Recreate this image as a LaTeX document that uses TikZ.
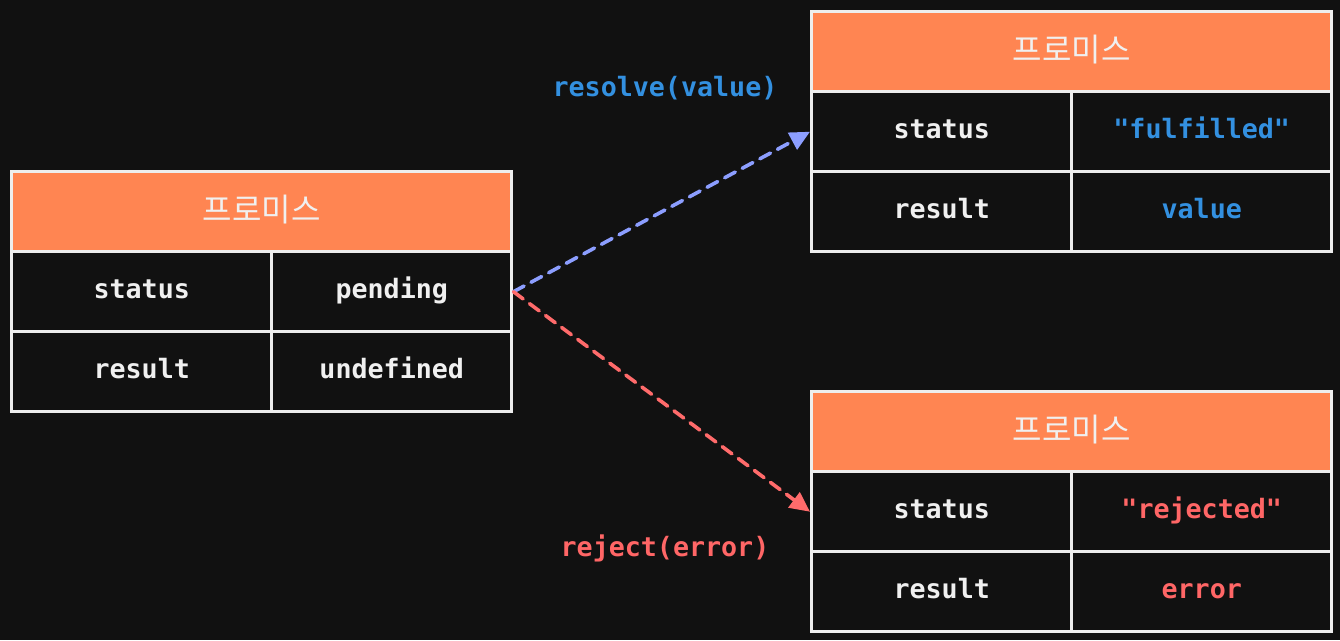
\documentclass[tikz,border=0pt]{standalone}
\usepackage{fontspec}
\setmonofont{DejaVu Sans Mono}
\newfontfamily\krfont{Noto Sans CJK KR}
\usetikzlibrary{arrows.meta}
\definecolor{bgc}{HTML}{111111}
\definecolor{bordc}{HTML}{EEEEEE}
\definecolor{hdrc}{HTML}{FF8552}
\definecolor{arrblue}{HTML}{8C9EFF}
\definecolor{arrred}{HTML}{FF6B6B}
\definecolor{txtblue}{HTML}{3390E0}
\definecolor{txtred}{HTML}{FF6666}
\definecolor{txtw}{HTML}{F0F0F0}
\begin{document}
\begin{tikzpicture}[x=0.75pt,y=-0.75pt,
  cell/.style={draw=bordc, line width=2.6pt, fill=bgc, inner sep=0pt, anchor=north west,
    minimum height=60pt, text=txtw, text height=14pt, text depth=4pt,
    font=\ttfamily\bfseries\fontsize{20}{24}\selectfont},
  hdr/.style={cell, fill=hdrc, text height=17pt, text depth=3pt,
    font=\krfont\fontsize{24}{28}\selectfont},
  lbl/.style={inner sep=0pt, font=\ttfamily\bfseries\fontsize{20}{24}\selectfont},
  conn/.style={line width=2.7pt, dash pattern=on 9pt off 6pt, line cap=round,
    -{Triangle[length=15pt,width=14pt]}}
]
\fill[bgc] (0,0) rectangle (1340,640);
\useasboundingbox (0,0) rectangle (1340,640);
% left table
\node[hdr, minimum width=375pt] (lh) at (10,170) {프로미스};
\node[cell, minimum width=195pt] (ls) at (10,250) {status};
\node[cell, minimum width=180pt] (lsv) at (270,250) {pending};
\node[cell, minimum width=195pt] (lr) at (10,330) {result};
\node[cell, minimum width=180pt] (lrv) at (270,330) {undefined};
% top right table
\node[hdr, minimum width=390pt] (th) at (810,10) {프로미스};
\node[cell, minimum width=195pt] (ts) at (810,90) {status};
\node[cell, minimum width=195pt, text=txtblue] (tsv) at (1070,90) {"fulfilled"};
\node[cell, minimum width=195pt] (tr) at (810,170) {result};
\node[cell, minimum width=195pt, text=txtblue] (trv) at (1070,170) {value};
% bottom right table
\node[hdr, minimum width=390pt] (bh) at (810,390) {프로미스};
\node[cell, minimum width=195pt] (bs) at (810,470) {status};
\node[cell, minimum width=195pt, text=txtred] (bsv) at (1070,470) {"rejected"};
\node[cell, minimum width=195pt] (br) at (810,550) {result};
\node[cell, minimum width=195pt, text=txtred] (brv) at (1070,550) {error};
% connectors
\draw[conn, arrblue] (lsv.east) -- (ts.west);
\draw[conn, arrred] (lsv.east) -- (bs.west);
% labels
\node[lbl, text=txtblue] (lres) at (665,88) {resolve(value)};
\node[lbl, text=txtred] (lrej) at (665,548) {reject(error)};
\end{tikzpicture}
\end{document}
